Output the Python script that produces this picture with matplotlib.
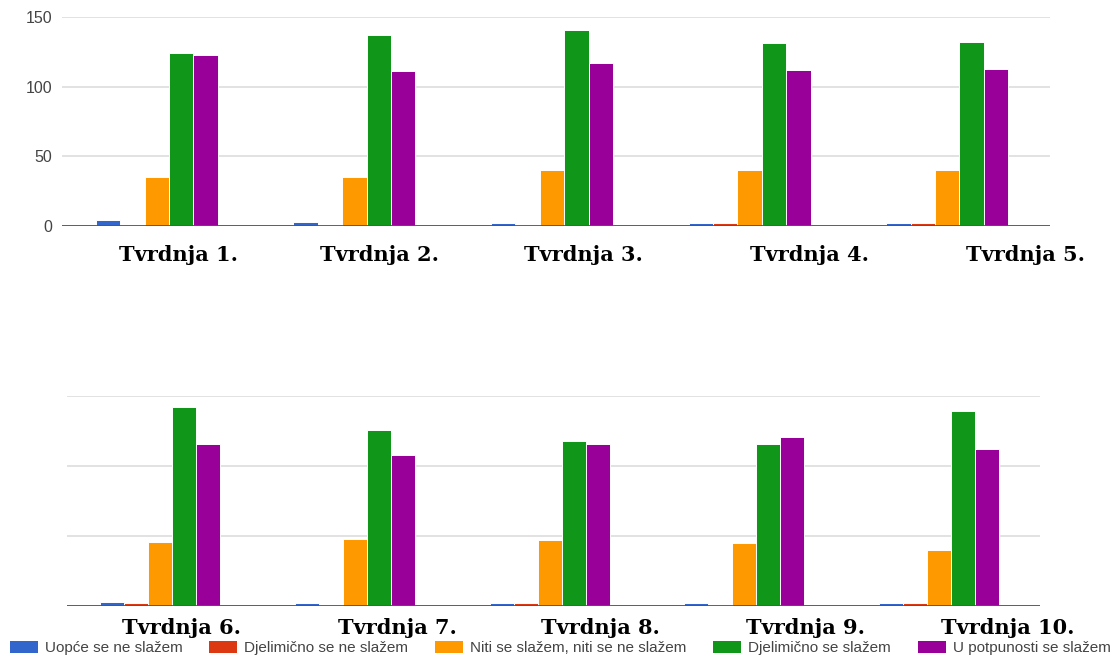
import numpy as np
import matplotlib
matplotlib.use('Agg')
import matplotlib.pyplot as plt
from matplotlib.patches import Patch

# data
statements_top = ['Tvrdnja 1.', 'Tvrdnja 2.', 'Tvrdnja 3.', 'Tvrdnja 4.', 'Tvrdnja 5.']
statements_bottom = ['Tvrdnja 6.', 'Tvrdnja 7.', 'Tvrdnja 8.', 'Tvrdnja 9.', 'Tvrdnja 10.']

answers = ['Uopće se ne slažem', 'Djelimično se ne slažem',
           'Niti se slažem, niti se ne slažem', 'Djelimično se slažem',
           'U potpunosti se slažem']

uopce_ne = [4, 3, 2, 2, 2, 3, 2, 2, 2, 2]
djelimicno_ne = [1, 1, 1, 2, 2, 2, 1, 2, 1, 2]
niti_niti = [35, 35, 40, 40, 40, 46, 48, 47, 45, 40]
djelimicno_da = [124, 137, 141, 131, 132, 142, 126, 118, 116, 139]
potpuno_da = [123, 111, 117, 112, 113, 116, 108, 116, 121, 112]

y_ticks = [0, 50, 100, 150]

colors = ['#3366cc', '#dc3912', '#ff9900', '#109618', '#990099']

W, H = 1116, 656
fig = plt.figure(figsize=(W / 100, H / 100), dpi=100)
plt.rcParams['font.family'] = ['Liberation Sans', 'DejaVu Sans']


def px_axes(x0, x1, y_top, y_base):
    return fig.add_axes([x0 / W, (H - y_base) / H, (x1 - x0) / W, (y_base - y_top) / H])


def draw_panel(ax, start, show_labels):
    series = [uopce_ne, djelimicno_ne, niti_niti, djelimicno_da, potpuno_da]
    x = np.arange(5)
    bw = 0.1235
    for k, vals in enumerate(series):
        ax.bar(x + (k - 2) * bw, vals[start:start + 5], width=bw, color=colors[k],
               edgecolor='white', linewidth=0.7, zorder=3)
    ax.set_xlim(-0.48, 4.52)
    ax.set_ylim(0, 150)
    ax.set_yticks(y_ticks)
    ax.yaxis.grid(True, color='#dddddd', linewidth=1.2, zorder=0)
    ax.axhline(0, color='#555555', linewidth=1.3, zorder=4)
    for s in ax.spines.values():
        s.set_visible(False)
    ax.set_xticks([])
    ax.tick_params(axis='y', length=0, pad=7, labelsize=11.5, labelcolor='#444444')
    if not show_labels:
        ax.set_yticklabels([])


ax1 = px_axes(62, 1050, 17, 226)
draw_panel(ax1, 0, True)
ax2 = px_axes(67, 1040, 396, 606)
draw_panel(ax2, 5, False)

# statement captions, placed by hand like in the original document
top_pos = [179, 380, 583, 810, 1025]
bottom_pos = [182, 397, 600, 805, 1008]
for name, px in zip(statements_top, top_pos):
    fig.text(px / W, (H - 261) / H, name, ha='center', va='baseline',
             fontsize=15, fontweight='bold', family='DejaVu Serif')
for name, px in zip(statements_bottom, bottom_pos):
    fig.text(px / W, (H - 634) / H, name, ha='center', va='baseline',
             fontsize=15, fontweight='bold', family='DejaVu Serif')

handles = [Patch(facecolor=c, edgecolor='none') for c in colors]
fig.legend(handles, answers, loc='center left', bbox_to_anchor=(10 / W, (H - 648) / H),
           ncol=5, frameon=False, fontsize=11, handlelength=1.83, handleheight=0.8,
           handletextpad=0.46, columnspacing=1.75, borderpad=0, borderaxespad=0,
           labelcolor='#444444')

fig.savefig('out.png', dpi=100)
